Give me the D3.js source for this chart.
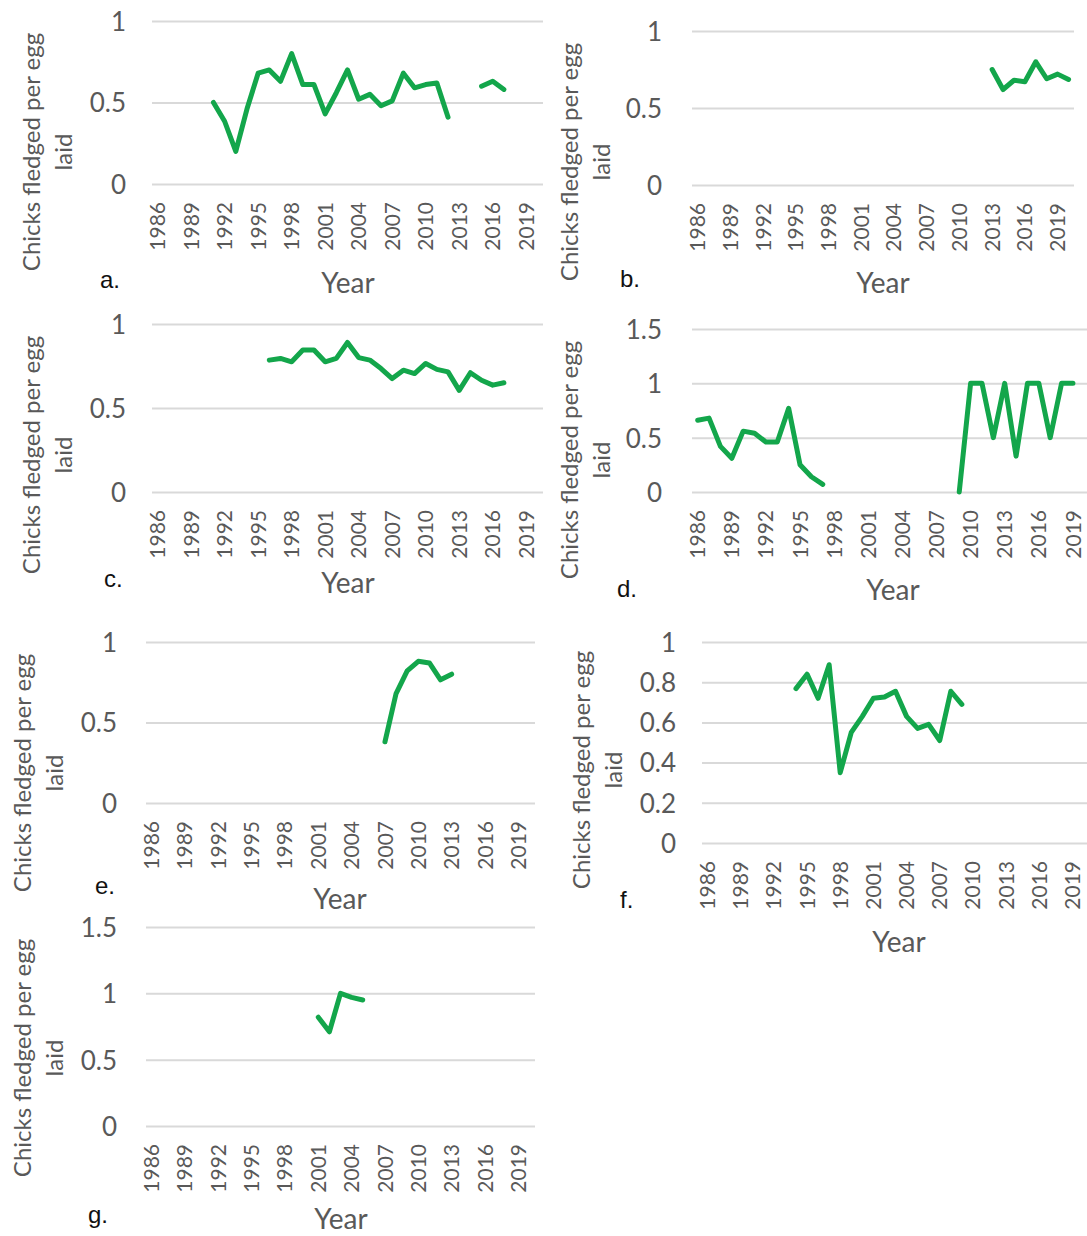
<!DOCTYPE html>
<html><head><meta charset="utf-8">
<script src="https://cdn.jsdelivr.net/npm/d3@7"></script>
<style>
body{margin:0;background:#fff;}
svg{display:block;}
</style>
</head><body>
<svg id="chart" width="1087" height="1236"></svg>
<script>
// ---------- DATA ----------
const years = [1986,1987,1988,1989,1990,1991,1992,1993,1994,1995,1996,1997,1998,1999,2000,2001,2002,2003,2004,2005,2006,2007,2008,2009,2010,2011,2012,2013,2014,2015,2016,2017,2018,2019,2020];
const tickYears = [1986,1989,1992,1995,1998,2001,2004,2007,2010,2013,2016,2019];

const valuesA = [null,null,null,null,null,0.50,0.385,0.20,0.46,0.68,0.70,0.63,0.80,0.61,0.61,0.43,0.56,0.70,0.52,0.55,0.48,0.51,0.68,0.59,0.61,0.62,0.41,null,null,0.60,0.63,0.58,null,null,null];
const valuesB = [null,null,null,null,null,null,null,null,null,null,null,null,null,null,null,null,null,null,null,null,null,null,null,null,null,null,null,0.75,0.62,0.68,0.67,0.80,0.69,0.72,0.685];
const valuesC = [null,null,null,null,null,null,null,null,null,null,0.785,0.795,0.775,0.845,0.845,0.775,0.795,0.89,0.80,0.785,0.735,0.675,0.725,0.705,0.765,0.73,0.715,0.605,0.71,0.665,0.636,0.65,null,null,null];
const valuesD = [0.66,0.68,0.42,0.31,0.56,0.54,0.46,0.46,0.77,0.25,0.14,0.07,null,null,null,null,null,null,null,null,null,null,null,0,1,1,0.5,1,0.33,1,1,0.5,1,1,null];
const valuesE = [null,null,null,null,null,null,null,null,null,null,null,null,null,null,null,null,null,null,null,null,null,0.38,0.68,0.82,0.88,0.87,0.765,0.80,null,null,null,null,null,null,null];
const valuesF = [null,null,null,null,null,null,null,null,0.768,0.84,0.72,0.887,0.35,0.55,0.63,0.72,0.726,0.755,0.63,0.57,0.59,0.51,0.755,0.69,null,null,null,null,null,null,null,null,null,null,null];
const valuesG = [null,null,null,null,null,null,null,null,null,null,null,null,null,null,null,0.82,0.71,1.0,0.97,0.95,null,null,null,null,null,null,null,null,null,null,null,null,null,null,null];

const ticksUnit = [0, 0.5, 1];
const ticksOneHalf = [0, 0.5, 1, 1.5];
const ticksFifths = [0, 0.2, 0.4, 0.6, 0.8, 1];

const panelLetters = ["a.", "b.", "c.", "d.", "e.", "f.", "g."];
const yTitleLines = ["Chicks fledged per egg", "laid"];
const xTitle = "Year";

// ---------- LAYOUT ----------
const panels = [
  {values: valuesA, ticks: ticksUnit, max: 1, x0: 152, x1: 543, yTop: 21, y0: 184, yLabX: 126, t1: 40, t2: 72, tcy: 152, lx: 100, ly: 288, yrX: 348, yrY: 293},
  {values: valuesB, ticks: ticksUnit, max: 1, x0: 692, x1: 1074, yTop: 31, y0: 185, yLabX: 662, t1: 578, t2: 610, tcy: 162, lx: 620, ly: 287, yrX: 883, yrY: 293},
  {values: valuesC, ticks: ticksUnit, max: 1, x0: 152, x1: 543, yTop: 324, y0: 492, yLabX: 126, t1: 40, t2: 72, tcy: 455, lx: 104, ly: 587, yrX: 348, yrY: 593},
  {values: valuesD, ticks: ticksOneHalf, max: 1.5, x0: 692, x1: 1090, yTop: 329, y0: 492, yLabX: 662, t1: 578, t2: 610, tcy: 460, lx: 617, ly: 597, yrX: 893, yrY: 600},
  {values: valuesE, ticks: ticksUnit, max: 1, x0: 146, x1: 535, yTop: 642, y0: 803, yLabX: 117, t1: 31, t2: 63, tcy: 773, lx: 95, ly: 894, yrX: 340, yrY: 909},
  {values: valuesF, ticks: ticksFifths, max: 1, x0: 702, x1: 1089, yTop: 642, y0: 843, yLabX: 676, t1: 590, t2: 622, tcy: 770, lx: 620, ly: 908, yrX: 899, yrY: 952},
  {values: valuesG, ticks: ticksOneHalf, max: 1.5, x0: 146, x1: 535, yTop: 927, y0: 1126, yLabX: 117, t1: 31, t2: 63, tcy: 1058, lx: 88, ly: 1223, yrX: 341, yrY: 1229}
];

const GREEN = "#13a64b";
const GRID = "#d9d9d9";
const TXT = "#595959";
const FONT = "Lato, 'Open Sans', sans-serif";

const svg = d3.select("#chart");
svg.append("rect").attr("width", 1087).attr("height", 1236).attr("fill", "#fff");

panels.forEach((p, i) => {
  const x = d3.scaleBand().domain(years).range([p.x0, p.x1]);
  const y = d3.scaleLinear().domain([0, p.max]).range([p.y0, p.yTop]);
  const g = svg.append("g");

  // gridlines
  g.append("g")
    .attr("transform", `translate(${p.x0},0)`)
    .call(d3.axisLeft(y).tickValues(p.ticks).tickSize(-(p.x1 - p.x0)).tickFormat(""))
    .call(s => s.select(".domain").remove())
    .selectAll("line").attr("stroke", GRID).attr("stroke-width", 2);

  // y tick labels
  g.append("g")
    .attr("transform", `translate(${p.yLabX},0)`)
    .call(d3.axisLeft(y).tickValues(p.ticks).tickSize(0).tickPadding(0).tickFormat(d => String(d)))
    .call(s => s.select(".domain").remove())
    .selectAll("text")
    .attr("fill", TXT).attr("dy", "0.36em")
    .style("font-family", FONT).style("font-size", "26px");

  // x axis labels
  g.append("g")
    .attr("transform", `translate(0,${p.y0})`)
    .call(d3.axisBottom(x).tickValues(tickYears).tickSize(0))
    .call(s => s.select(".domain").remove())
    .selectAll("text")
    .attr("transform", "rotate(-90)")
    .attr("x", -18).attr("y", 0).attr("dy", "0.36em")
    .style("text-anchor", "end")
    .attr("fill", TXT)
    .style("font-family", FONT).style("font-size", "21px");

  // series line
  const pts = years.map((yr, k) => ({yr, v: p.values[k]}));
  g.append("path")
    .datum(pts)
    .attr("fill", "none")
    .attr("stroke", GREEN)
    .attr("stroke-width", 5)
    .attr("stroke-linejoin", "round")
    .attr("stroke-linecap", "round")
    .attr("d", d3.line()
      .defined(d => d.v !== null)
      .x(d => x(d.yr) + x.bandwidth() / 2)
      .y(d => y(d.v)));

  // y title (two lines)
  [p.t1, p.t2].forEach((bx, k) => {
    g.append("text")
      .attr("transform", `translate(${bx},${p.tcy}) rotate(-90)`)
      .attr("text-anchor", "middle")
      .attr("fill", TXT)
      .style("font-family", FONT).style("font-size", "24px")
      .text(yTitleLines[k]);
  });

  // x title
  g.append("text")
    .attr("x", p.yrX).attr("y", p.yrY)
    .attr("text-anchor", "middle")
    .attr("fill", TXT)
    .style("font-family", FONT).style("font-size", "28px")
    .text(xTitle);

  // panel letter
  g.append("text")
    .attr("x", p.lx).attr("y", p.ly)
    .attr("fill", "#111")
    .style("font-family", "'Liberation Sans', Arial, sans-serif").style("font-size", "24px")
    .text(panelLetters[i]);
});
</script>
</body></html>
